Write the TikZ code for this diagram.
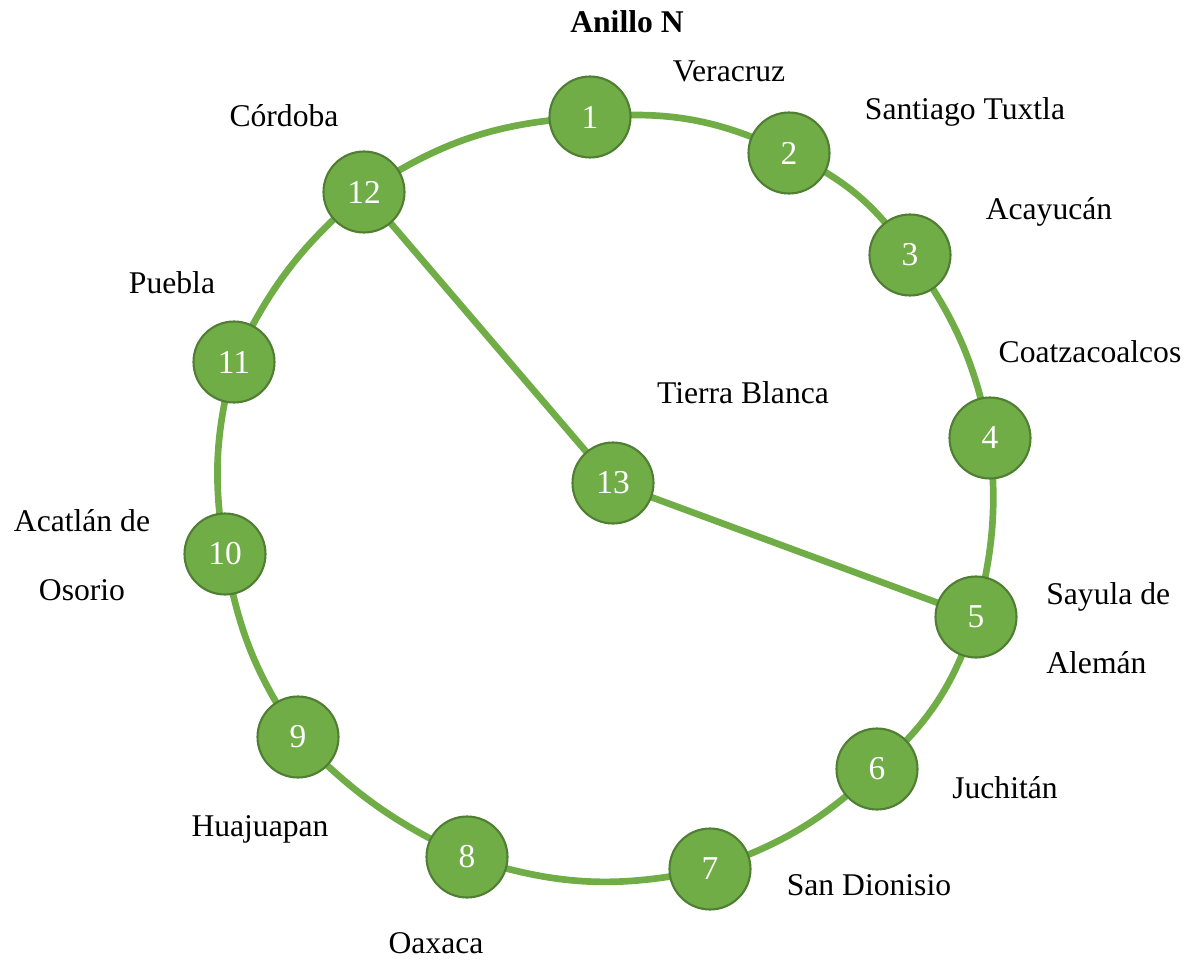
\documentclass[tikz,border=0pt]{standalone}
\usepackage{fontspec}
\setmainfont{Liberation Serif}
\begin{document}
\begin{tikzpicture}[x=0.02cm,y=-0.02cm,
  city/.style={circle,draw=ringborder,line width=1.2pt,fill=ringgreen,minimum size=1.62cm,inner sep=0pt,text=white,font=\fontsize{19}{22}\selectfont},
  link/.style={draw=ringgreen,line width=3.8pt},
  lbl/.style={font=\fontsize{18}{22}\selectfont,inner sep=0pt}]
\definecolor{ringgreen}{HTML}{70AD47}
\definecolor{ringborder}{HTML}{507E32}
\useasboundingbox (0,0) rectangle (1191,960);
% edges first
\coordinate (p1) at (590,117);
\coordinate (p2) at (789,153);
\coordinate (p3) at (910,255);
\coordinate (p4) at (990,438);
\coordinate (p5) at (976,617);
\coordinate (p6) at (877,769);
\coordinate (p7) at (710,869);
\coordinate (p8) at (467,857);
\coordinate (p9) at (298,737);
\coordinate (p10) at (225,554);
\coordinate (p11) at (234,362);
\coordinate (p12) at (364,192);
\coordinate (p13) at (613,483);
\draw[link] (p1) to[bend left=15] (p2);
\draw[link] (p2) to[bend left=15] (p3);
\draw[link] (p3) to[bend left=12] (p4);
\draw[link] (p4) to[bend left=10] (p5);
\draw[link] (p5) to[bend left=15] (p6);
\draw[link] (p6) to[bend left=12] (p7);
\draw[link] (p7) to[bend left=15] (p8);
\draw[link] (p8) to[bend left=10] (p9);
\draw[link] (p9) to[bend left=12] (p10);
\draw[link] (p10) to[bend left=12] (p11);
\draw[link] (p11) to[bend left=12] (p12);
\draw[link] (p12) to[bend left=15] (p1);
\draw[link] (p12) -- (p13);
\draw[link] (p13) -- (p5);
% nodes
\node[city] (n1) at (p1) {1};
\node[city] (n2) at (p2) {2};
\node[city] (n3) at (p3) {3};
\node[city] (n4) at (p4) {4};
\node[city] (n5) at (p5) {5};
\node[city] (n6) at (p6) {6};
\node[city] (n7) at (p7) {7};
\node[city] (n8) at (p8) {8};
\node[city] (n9) at (p9) {9};
\node[city] (n10) at (p10) {10};
\node[city] (n11) at (p11) {11};
\node[city] (n12) at (p12) {12};
\node[city] (n13) at (p13) {13};
% labels
\node[lbl,font=\fontsize{18}{22}\selectfont\bfseries] (title) at (627,22) {Anillo N};
\node[lbl] (l1) at (729,71) {Veracruz};
\node[lbl] (l2) at (965,112) {Santiago Tuxtla};
\node[lbl] (l3) at (1049,212) {Acayucán};
\node[lbl] (l4) at (1090,352) {Coatzacoalcos};
\node[lbl] (l13) at (743,393) {Tierra Blanca};
\node[lbl,align=left,anchor=west] (l5) at (1046,628) {Sayula de\\[0.6cm]Alemán};
\node[lbl] (l6) at (1005,788) {Juchitán};
\node[lbl] (l7) at (869,885) {San Dionisio};
\node[lbl] (l8) at (436,943) {Oaxaca};
\node[lbl] (l9) at (260,829) {Huajuapan};
\node[lbl,align=center] (l10) at (82,555) {Acatlán de\\[0.6cm]Osorio};
\node[lbl] (l11) at (172,283) {Puebla};
\node[lbl] (l12) at (284,116) {Córdoba};
\end{tikzpicture}
\end{document}
